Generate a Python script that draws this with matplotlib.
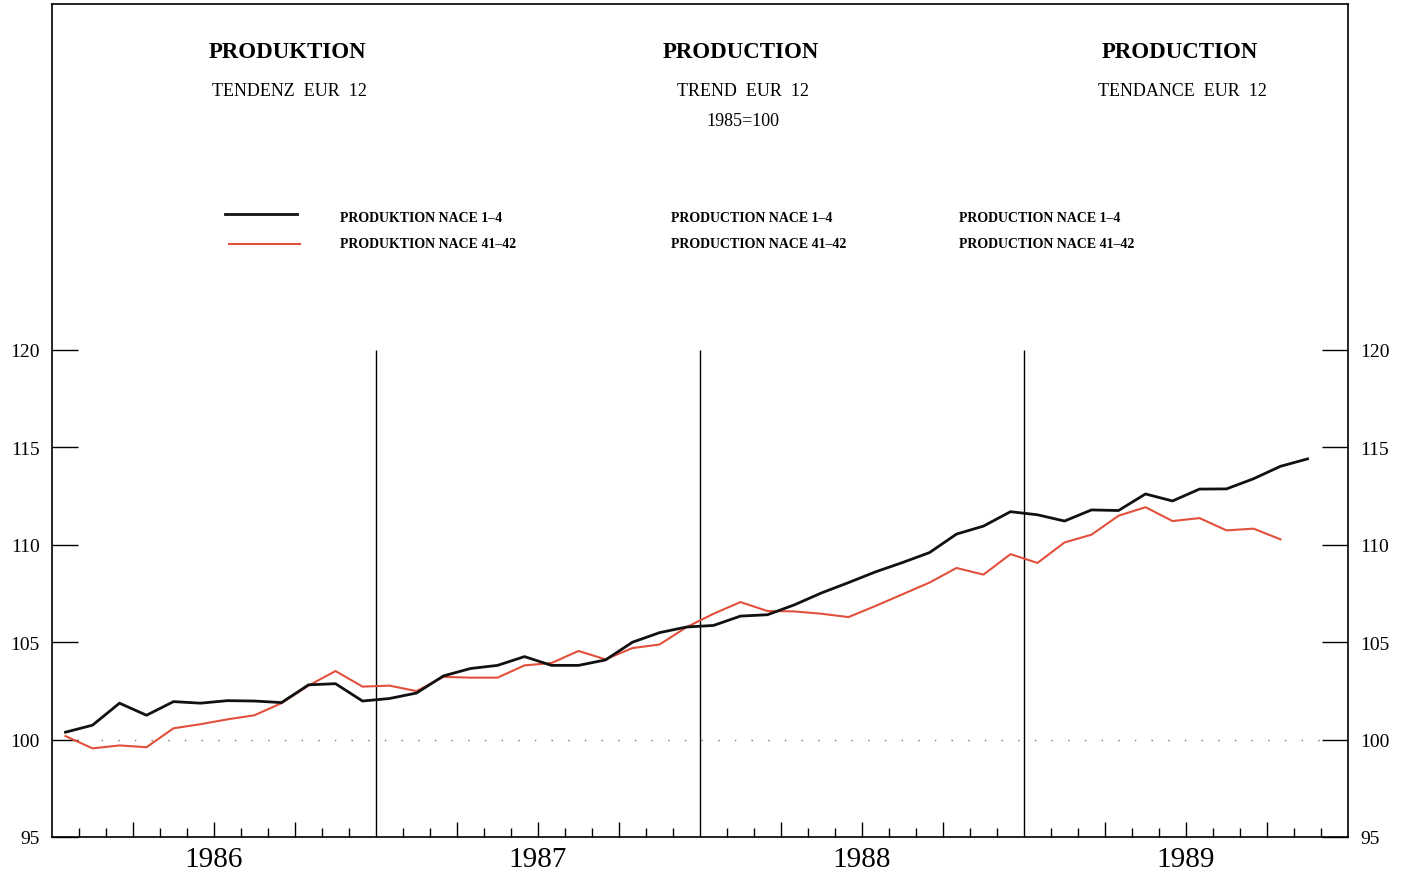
import numpy as np
import matplotlib
matplotlib.use("Agg")
import matplotlib.pyplot as plt
from matplotlib.ticker import FixedLocator

# =============================
# DATA (monthly, Jan 1986 onwards, 1985=100)
# =============================
years = [1986, 1987, 1988, 1989]

nace_1_4 = [
    100.38, 100.74, 101.87, 101.25, 101.95, 101.87, 102.00, 101.98, 101.90, 102.81, 102.87, 101.98,
    102.11, 102.39, 103.27, 103.65, 103.81, 104.26, 103.81, 103.81, 104.09, 105.00, 105.49, 105.78,
    105.86, 106.34, 106.41, 106.92, 107.53, 108.06, 108.61, 109.09, 109.60, 110.55, 110.96, 111.70,
    111.54, 111.22, 111.79, 111.76, 112.61, 112.25, 112.86, 112.87, 113.39, 114.03, 114.41,
]

nace_41_42 = [
    100.18, 99.55, 99.70, 99.61, 100.58, 100.79, 101.04, 101.25, 101.87, 102.77, 103.52, 102.72,
    102.77, 102.49, 103.22, 103.18, 103.18, 103.81, 103.93, 104.55, 104.12, 104.70, 104.88, 105.77,
    106.46, 107.06, 106.60, 106.58, 106.46, 106.29, 106.86, 107.46, 108.06, 108.81, 108.47, 109.52,
    109.07, 110.12, 110.52, 111.49, 111.93, 111.22, 111.37, 110.74, 110.83, 110.28,
]

y_ticks = [95, 100, 105, 110, 115, 120]

titles = ["PRODUKTION", "PRODUCTION", "PRODUCTION"]
subtitles = ["TENDENZ  EUR  12", "TREND  EUR  12", "TENDANCE  EUR  12"]
base_label = "1985=100"
labels_1_4 = ["PRODUKTION NACE 1–4", "PRODUCTION NACE 1–4", "PRODUCTION NACE 1–4"]
labels_41_42 = ["PRODUKTION NACE 41–42", "PRODUCTION NACE 41–42", "PRODUCTION NACE 41–42"]

RED = "#e2503c"
FONT = "Liberation Serif"

# =============================
# FIGURE
# =============================
W, H = 1410, 878
fig = plt.figure(figsize=(W / 100, H / 100), dpi=100)
fig.patch.set_facecolor("white")

ax = fig.add_axes([52 / W, 40 / H, 1296 / W, 833 / H])
ax.set_xlim(1986, 1990)
scale = (838 - 351) / 25.0
ax.set_ylim(95, 95 + (838 - 5) / scale)

x1 = 1986 + (np.arange(len(nace_1_4)) + 0.5) / 12
x2 = 1986 + (np.arange(len(nace_41_42)) + 0.5) / 12

ax.plot(x1, nace_1_4, color="#111111", lw=2.0, zorder=4)
ax.plot(x2, nace_41_42, color=RED, lw=1.5, zorder=3)

# year separators and 100 reference line
ax.vlines([1987, 1988, 1989], 95, 120, color="black", lw=1.0)
ax.hlines(100, 1986.15, 1989.92, color="#777777", lw=1.0, linestyles=(0, (1, 11)))

# -------------------------
# AXES / TICKS
# -------------------------
for s in ax.spines.values():
    s.set_linewidth(1.2)

ax.yaxis.set_major_locator(FixedLocator(y_ticks))
ax.set_yticklabels([str(v) for v in y_ticks])
ax.tick_params(axis="y", direction="in", length=19, width=1.0,
               left=True, right=True, labelleft=True, labelright=True,
               labelsize=14, pad=9)
for lab in ax.get_yticklabels():
    lab.set_fontfamily(FONT)

months = np.arange(1, 48) / 12 + 1986
quarters = [m for k, m in enumerate(months, start=1) if k % 3 == 0 and k % 12 != 0]
others = [m for k, m in enumerate(months, start=1) if k % 3 != 0]
ax.xaxis.set_major_locator(FixedLocator(quarters))
ax.xaxis.set_minor_locator(FixedLocator(others))
ax.tick_params(axis="x", which="major", direction="in", length=11, width=1.0,
               labelbottom=False)
ax.tick_params(axis="x", which="minor", direction="in", length=6.5, width=1.0)

for yr in years:
    ax.text(yr + 0.5, -0.027, str(yr), transform=ax.get_xaxis_transform(),
            ha="center", va="center", fontsize=21, family=FONT)

# -------------------------
# TITLES
# -------------------------
def fy(py):
    return 1 - py / H

title_x = [287, 741, 1180]
for tx, t, st in zip(title_x, titles, subtitles):
    fig.text(tx / W, fy(53), t, ha="center", va="center",
             fontsize=16.5, fontweight="bold", family=FONT)
    fig.text((tx + 2) / W, fy(91), st, ha="center", va="center",
             fontsize=13, family=FONT)
fig.text(743 / W, fy(121), base_label, ha="center", va="center",
         fontsize=13, family=FONT)

# -------------------------
# LEGEND (drawn by hand)
# -------------------------
fig.add_artist(plt.Line2D([225 / W, 297 / W], [fy(215), fy(215)], color="#111111", lw=2.0))
fig.add_artist(plt.Line2D([229 / W, 300 / W], [fy(245), fy(245)], color=RED, lw=1.5))
for lx, l1, l2 in zip([340, 671, 959], labels_1_4, labels_41_42):
    fig.text(lx / W, fy(218), l1, ha="left", va="center",
             fontsize=10, fontweight="bold", family=FONT)
    fig.text(lx / W, fy(245), l2, ha="left", va="center",
             fontsize=10, fontweight="bold", family=FONT)

fig.savefig("out.png", dpi=100)
